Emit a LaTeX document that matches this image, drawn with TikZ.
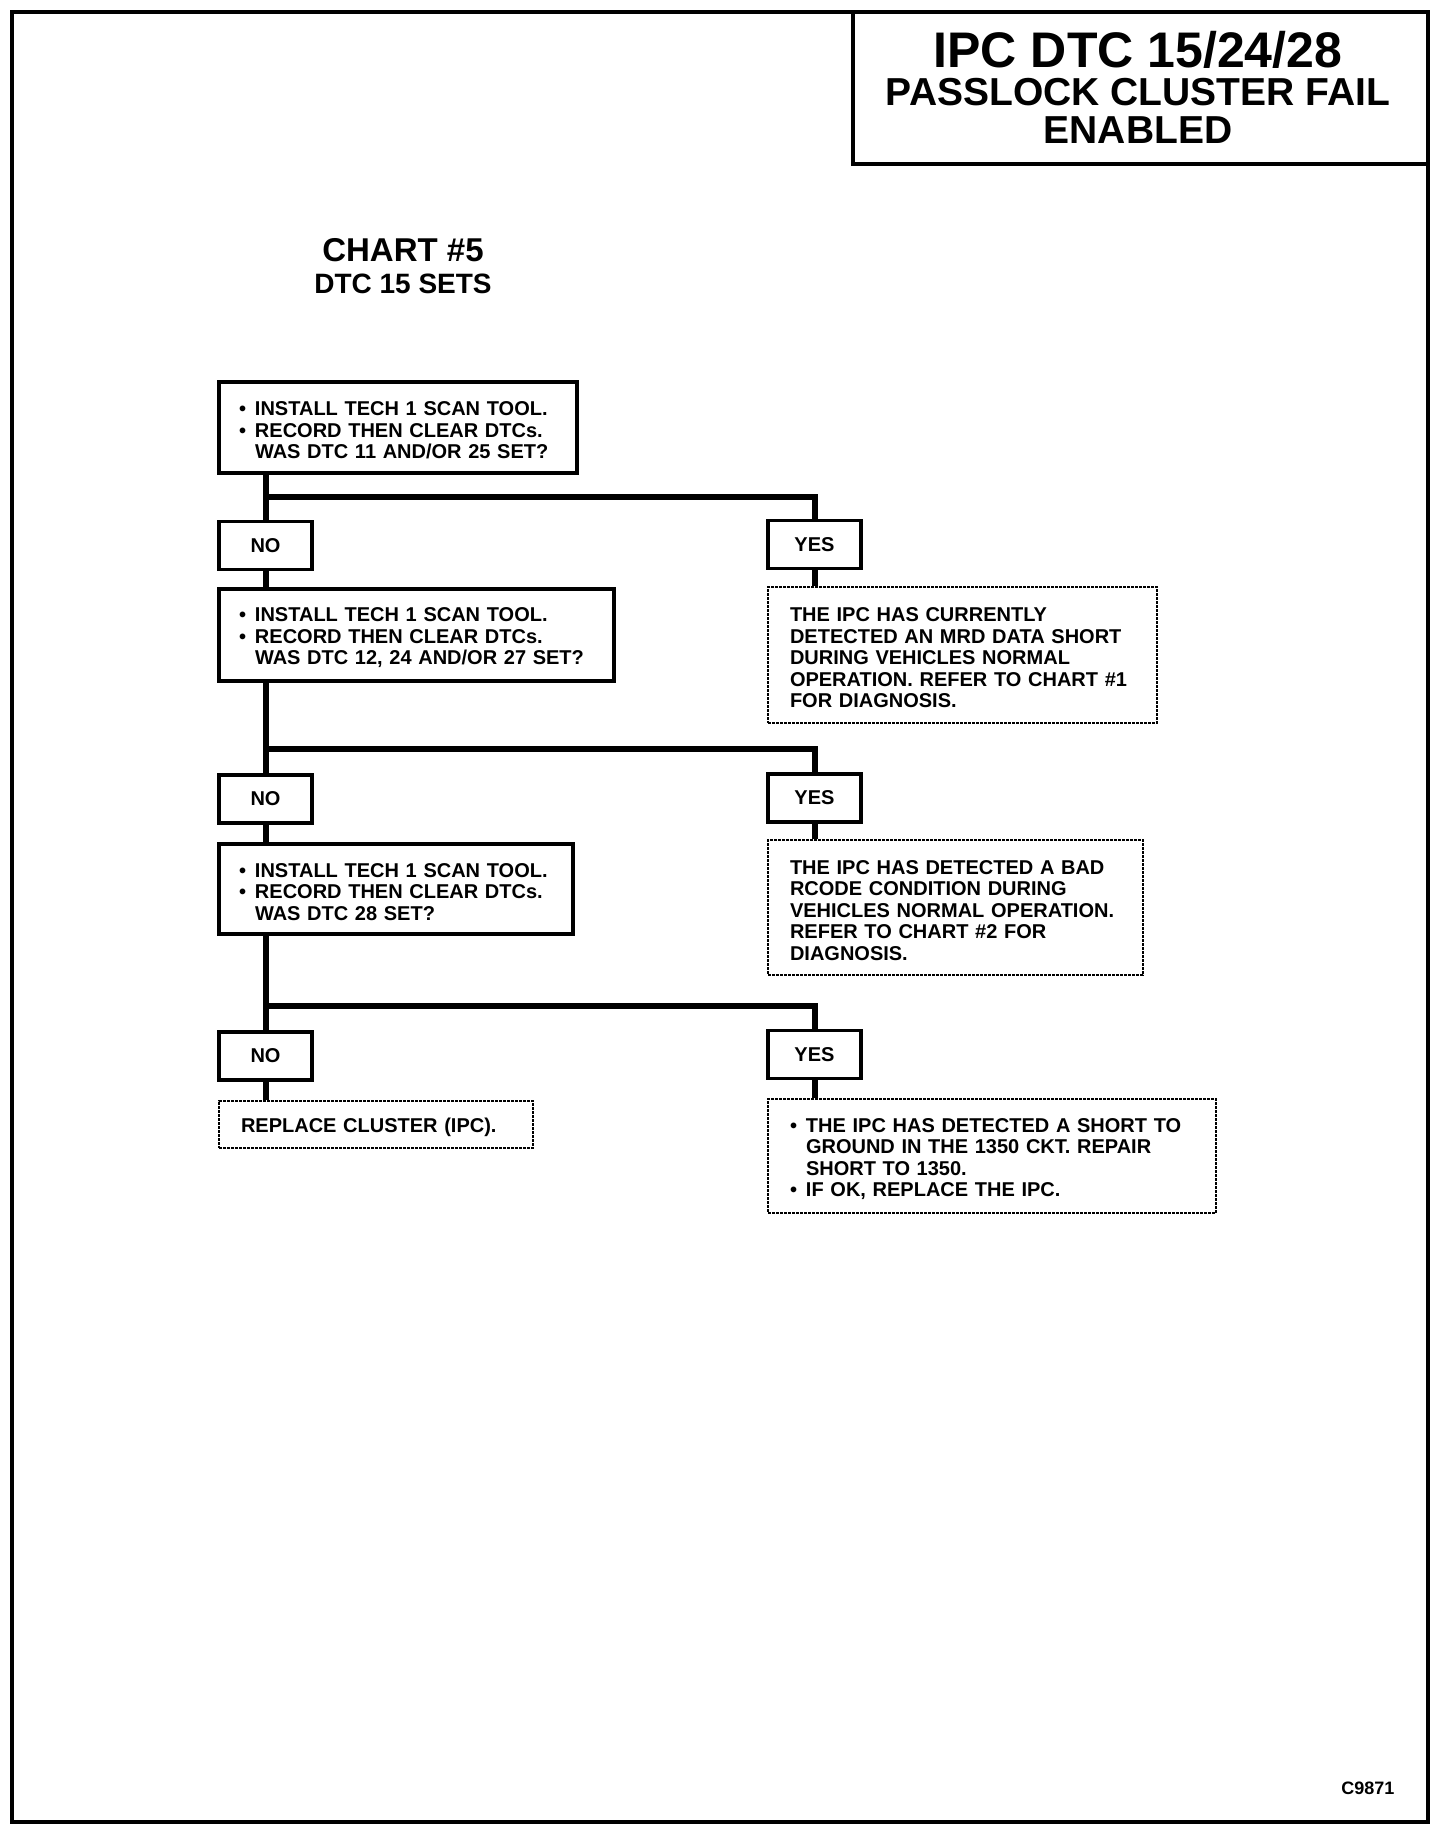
\documentclass[tikz,border=0pt]{standalone}
\usepackage{fontspec}
\setmainfont{Liberation Sans}
\newcommand{\bl}{\makebox[16pt][l]{\textbullet}}
\newcommand{\ind}{\hspace*{16pt}}
\newcommand{\up}{\rule{0pt}{20pt}}
\tikzset{
  solidbox/.style={draw, rectangle, line width=3.5pt, inner ysep=0pt},
  dotbox/.style={draw, rectangle, line width=2.8pt, dash pattern=on 3pt off 1pt, inner ysep=0pt},
  txt/.style={font=\fontsize{20}{21.5}\selectfont\bfseries, align=left},
  ansbox/.style={solidbox, minimum width=93pt, minimum height=48pt, inner xsep=0pt, font=\fontsize{20}{21.5}\selectfont\bfseries},
  conn/.style={line width=6pt},
}
\begin{document}
\begin{tikzpicture}[x=1pt,y=-1pt]
\useasboundingbox (0,0) rectangle (1440,1832);
% outer frame
\draw[line width=4pt] (12,12) rectangle (1428,1822);
% title box
\node[draw, line width=4pt, minimum width=575pt, minimum height=152pt, inner sep=0pt] (tbox) at (1140.5,88) {};
\node[anchor=base, font=\fontsize{50}{50}\selectfont\bfseries] (t1) at (1138,67) {IPC DTC 15/24/28};
\node[anchor=base, font=\fontsize{39}{39}\selectfont\bfseries] (t2) at (1138,105) {PASSLOCK CLUSTER FAIL};
\node[anchor=base, font=\fontsize{39}{39}\selectfont\bfseries] (t3) at (1138,143) {ENABLED};
% chart title
\node[anchor=base, font=\fontsize{33}{33}\selectfont\bfseries] (c1) at (403,261) {CHART \#5};
\node[anchor=base, font=\fontsize{28}{28}\selectfont\bfseries] (c2) at (403,293) {DTC 15 SETS};
% question boxes
\node[solidbox, txt, minimum width=358pt, minimum height=91pt, text width=318pt, inner xsep=20pt] (b1) at (398,427.5)
  {\up\bl INSTALL TECH 1 SCAN TOOL.\\ \bl RECORD THEN CLEAR DTCs.\\ \ind WAS DTC 11 AND/OR 25 SET?};
\node[solidbox, txt, minimum width=395pt, minimum height=92pt, text width=355pt, inner xsep=20pt] (b2) at (416.5,635)
  {\up\bl INSTALL TECH 1 SCAN TOOL.\\ \bl RECORD THEN CLEAR DTCs.\\ \ind WAS DTC 12, 24 AND/OR 27 SET?};
\node[solidbox, txt, minimum width=354pt, minimum height=90pt, text width=314pt, inner xsep=20pt] (b3) at (396,889)
  {\up\bl INSTALL TECH 1 SCAN TOOL.\\ \bl RECORD THEN CLEAR DTCs.\\ \ind WAS DTC 28 SET?};
% answer boxes
\node[ansbox] (no1) at (265.5,545.5) {NO};
\node[ansbox] (yes1) at (814.5,544.5) {YES};
\node[ansbox] (no2) at (265.5,799) {NO};
\node[ansbox] (yes2) at (814.5,798) {YES};
\node[ansbox] (no3) at (265.5,1056) {NO};
\node[ansbox] (yes3) at (814.5,1054.5) {YES};
% result boxes
\node[dotbox, txt, minimum width=389pt, minimum height=136pt, text width=345pt, inner xsep=22pt] (rA) at (962.5,655)
  {\up THE IPC HAS CURRENTLY\\ DETECTED AN MRD DATA SHORT\\ DURING VEHICLES NORMAL\\ OPERATION. REFER TO CHART \#1\\ FOR DIAGNOSIS.};
\node[dotbox, txt, minimum width=375pt, minimum height=135pt, text width=331pt, inner xsep=22pt] (rB) at (955.5,907.5)
  {\up THE IPC HAS DETECTED A BAD\\ RCODE CONDITION DURING\\ VEHICLES NORMAL OPERATION.\\ REFER TO CHART \#2 FOR\\ DIAGNOSIS.};
\node[dotbox, txt, minimum width=314pt, minimum height=47pt, text width=270pt, inner xsep=22pt] (rR) at (376,1124.5)
  {\up REPLACE CLUSTER (IPC).};
\node[dotbox, txt, minimum width=448pt, minimum height=114pt, text width=404pt, inner xsep=22pt] (rC) at (992,1156)
  {\up\bl THE IPC HAS DETECTED A SHORT TO\\ \ind GROUND IN THE 1350 CKT. REPAIR\\ \ind SHORT TO 1350.\\ \bl IF OK, REPLACE THE IPC.};
% junctions
\coordinate (j1) at (265.5,497);
\coordinate (j2) at (265.5,749);
\coordinate (j3) at (265.5,1006);
% connectors
\draw[conn] (no1.north |- b1.south) -- (no1.north);
\draw[conn] (j1) -| (yes1.north);
\draw[conn] (no1.south) -- (no1.south |- b2.north);
\draw[conn] (yes1.south) -- (yes1.south |- rA.north);
\draw[conn] (no2.north |- b2.south) -- (no2.north);
\draw[conn] (j2) -| (yes2.north);
\draw[conn] (no2.south) -- (no2.south |- b3.north);
\draw[conn] (yes2.south) -- (yes2.south |- rB.north);
\draw[conn] (no3.north |- b3.south) -- (no3.north);
\draw[conn] (j3) -| (yes3.north);
\draw[conn] (no3.south) -- (no3.south |- rR.north);
\draw[conn] (yes3.south) -- (yes3.south |- rC.north);
% code
\node[anchor=base east, font=\fontsize{18}{18}\selectfont\bfseries] (code) at (1398,1794) {C9871};
\end{tikzpicture}
\end{document}
